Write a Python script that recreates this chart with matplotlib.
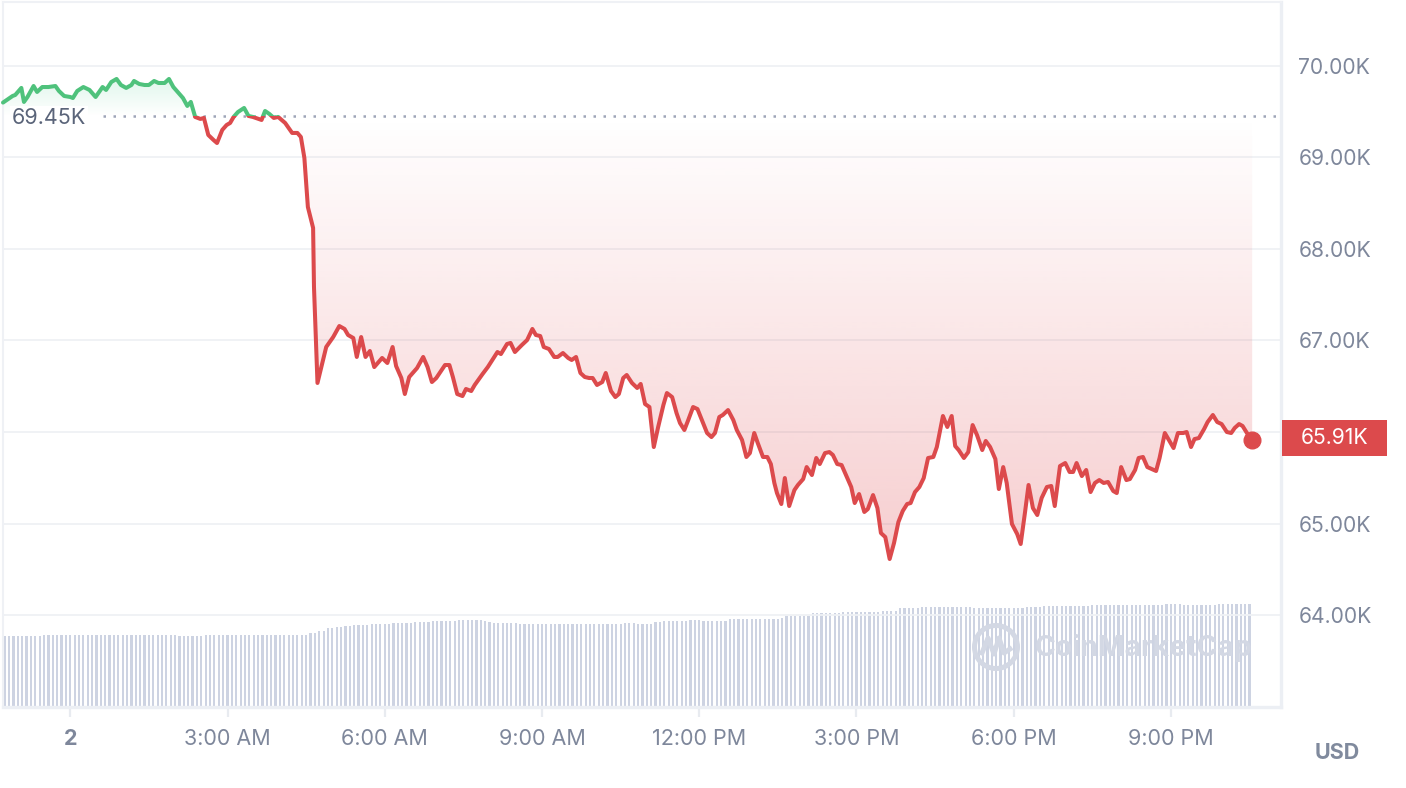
import numpy as np
import matplotlib
matplotlib.use('Agg')
import matplotlib.pyplot as plt
import matplotlib.transforms as mtransforms
from matplotlib.path import Path
from matplotlib.patches import Rectangle, Circle
from matplotlib.lines import Line2D

plt.rcParams['font.family'] = ['Inter', 'DejaVu Sans']

# price samples: minutes after midnight of day 2, price in USD
minutes = [
    -77, -66, -63, -56, -53, -49, -42, -38, -32, -25,
    -17, -13, -7, 0, 3, 8, 15, 22, 29, 37,
    41, 47, 53, 58, 64, 70, 73, 79, 85, 90,
    96, 101, 108, 113, 118, 124, 129, 134, 138, 143,
    149, 153, 158, 164, 168, 174, 179, 183, 187, 192,
    199, 204, 209, 219, 223, 228, 233, 238, 246, 254,
    260, 264, 268, 272, 278, 279, 283, 293, 301, 308,
    314, 318, 324, 328, 333, 338, 343, 348, 357, 363,
    369, 373, 379, 383, 388, 397, 404, 409, 414, 419,
    429, 434, 438, 443, 449, 453, 459, 463, 472, 478,
    489, 493, 500, 504, 509, 517, 523, 529, 533, 538,
    542, 548, 554, 558, 564, 570, 574, 579, 584, 589,
    594, 598, 603, 609, 613, 619, 624, 628, 633, 637,
    643, 649, 653, 658, 663, 668, 673, 679, 683, 689,
    694, 698, 703, 707, 713, 718, 723, 729, 734, 738,
    743, 747, 753, 759, 763, 769, 774, 778, 783, 787,
    793, 798, 802, 806, 809, 814, 818, 823, 829, 833,
    839, 843, 849, 854, 858, 864, 869, 873, 878, 883,
    888, 894, 898, 903, 909, 913, 919, 924, 928, 933,
    938, 943, 948, 953, 958, 962, 967, 972, 977, 982,
    988, 992, 999, 1004, 1009, 1013, 1017, 1023, 1028, 1033,
    1038, 1044, 1048, 1053, 1059, 1063, 1068, 1072, 1078, 1084,
    1088, 1093, 1097, 1102, 1107, 1112, 1118, 1123, 1127, 1133,
    1139, 1144, 1148, 1152, 1158, 1163, 1168, 1173, 1178, 1183,
    1188, 1194, 1198, 1203, 1209, 1213, 1219, 1223, 1228, 1233,
    1243, 1247, 1253, 1259, 1263, 1268, 1274, 1278, 1283, 1287,
    1292, 1298, 1302, 1308, 1313, 1318, 1324, 1329, 1333, 1338,
    1342, 1347, 1353,
]
prices = [
    69600, 69672, 69683, 69760, 69607, 69661, 69781, 69716, 69770, 69770,
    69781, 69727, 69672, 69661, 69650, 69727, 69770, 69738, 69661, 69770,
    69738, 69825, 69858, 69792, 69760, 69792, 69836, 69803, 69792, 69792,
    69836, 69814, 69814, 69858, 69770, 69705, 69650, 69563, 69607, 69443,
    69421, 69432, 69246, 69191, 69158, 69301, 69355, 69377, 69443, 69497,
    69541, 69454, 69443, 69410, 69508, 69475, 69432, 69443, 69377, 69268,
    69268, 69224, 68995, 68459, 68230, 67585, 66536, 66929, 67038, 67158,
    67126, 67060, 67027, 66820, 67038, 66820, 66885, 66710, 66809, 66754,
    66929, 66721, 66590, 66415, 66601, 66699, 66820, 66710, 66546, 66590,
    66732, 66732, 66601, 66415, 66393, 66470, 66448, 66514, 66634, 66710,
    66874, 66852, 66962, 66973, 66874, 66951, 67005, 67126, 67060, 67049,
    66929, 66907, 66820, 66820, 66863, 66809, 66787, 66820, 66645, 66601,
    66590, 66590, 66514, 66546, 66645, 66448, 66382, 66415, 66590, 66623,
    66536, 66481, 66525, 66306, 66273, 65836, 66055, 66295, 66426, 66382,
    66208, 66098, 66022, 66120, 66273, 66251, 66131, 65989, 65945, 65989,
    66164, 66186, 66240, 66131, 66022, 65913, 65727, 65770, 65989, 65880,
    65727, 65727, 65650, 65443, 65333, 65213, 65497, 65191, 65366, 65421,
    65486, 65617, 65530, 65716, 65650, 65770, 65781, 65749, 65650, 65639,
    65530, 65399, 65224, 65322, 65126, 65158, 65311, 65169, 64896, 64852,
    64612, 64787, 65016, 65137, 65213, 65224, 65344, 65399, 65497, 65716,
    65727, 65836, 66175, 66055, 66175, 65847, 65803, 65716, 65781, 66076,
    65967, 65803, 65902, 65836, 65705, 65377, 65617, 65443, 64995, 64885,
    64776, 65126, 65421, 65169, 65093, 65279, 65399, 65410, 65191, 65628,
    65661, 65563, 65563, 65661, 65519, 65585, 65344, 65443, 65475, 65443,
    65454, 65355, 65333, 65617, 65475, 65486, 65585, 65716, 65727, 65617,
    65574, 65716, 65989, 65891, 65825, 65989, 65989, 66000, 65836, 65923,
    65934, 66033, 66109, 66186, 66109, 66087, 66000, 65989, 66044, 66087,
    66066, 65989, 65910,
]
open_price = 69450
open_label = '69.45K'
last_label = '65.91K'

# 24h volume (billion USD), one bar every 5 minutes starting at -75 min
vol_start = -75
vol_step = 5
volume = [
    28.4, 28.4, 28.4, 28.4, 28.4, 28.4, 28.4, 28.4, 28.4, 28.8, 28.8, 28.8, 28.8, 28.8, 28.8,
    28.8, 28.8, 28.8, 28.8, 28.8, 28.8, 28.8, 28.8, 28.8, 28.8, 28.8, 28.8,
    28.8, 28.8, 28.8, 28.8, 28.8, 28.8, 28.8, 28.8, 28.8, 28.8, 28.8, 28.8,
    28.8, 28.4, 28.4, 28.4, 28.4, 28.4, 28.4, 28.8, 28.8, 28.8, 28.8, 28.8,
    28.8, 28.8, 28.8, 28.8, 28.8, 28.8, 28.8, 28.8, 28.8, 28.8, 28.8, 28.8,
    28.8, 28.8, 28.8, 28.8, 28.8, 28.8, 28.8, 29.6, 29.6, 30.4, 30.4, 31.6,
    31.6, 32.0, 32.0, 32.4, 32.4, 32.8, 32.8, 32.8, 32.8, 33.2, 33.2, 33.2,
    33.2, 33.2, 33.6, 33.6, 33.6, 33.6, 33.6, 34.0, 34.0, 34.0, 34.0, 34.4,
    34.4, 34.4, 34.4, 34.4, 34.4, 34.8, 34.8, 34.8, 34.8, 34.8, 34.8, 34.4,
    34.0, 33.6, 33.6, 33.6, 33.6, 33.6, 33.6, 33.2, 33.2, 33.2, 33.2, 33.2,
    33.2, 33.2, 33.2, 33.2, 33.2, 33.2, 33.2, 33.2, 33.2, 33.2, 33.2, 33.2,
    33.2, 33.2, 33.2, 33.2, 33.2, 33.2, 33.2, 33.6, 33.6, 33.6, 33.2, 33.2,
    33.2, 33.2, 34.0, 34.0, 34.4, 34.4, 34.4, 34.4, 34.4, 34.4, 34.8, 34.8,
    34.8, 34.4, 34.4, 34.4, 34.4, 34.4, 34.4, 35.2, 35.2, 35.2, 35.2, 35.2,
    35.2, 35.2, 35.2, 35.2, 35.2, 35.2, 35.2, 35.6, 36.4, 36.4, 36.4, 36.4,
    36.4, 36.4, 37.6, 37.6, 37.6, 37.6, 37.6, 37.6, 37.6, 38.0, 38.0, 38.0,
    38.0, 38.0, 38.0, 38.0, 38.0, 38.0, 38.4, 38.4, 38.4, 38.4, 39.6, 39.6,
    39.6, 39.6, 39.6, 40.0, 40.0, 40.0, 40.0, 40.0, 40.0, 40.0, 40.0, 40.0,
    40.0, 40.0, 40.0, 39.6, 39.6, 39.6, 39.6, 39.6, 39.6, 39.6, 39.6, 39.6,
    39.6, 39.6, 39.6, 40.0, 40.0, 40.0, 40.0, 40.4, 40.4, 40.4, 40.4, 40.4,
    40.4, 40.4, 40.4, 40.4, 40.4, 40.4, 40.8, 40.8, 40.8, 40.8, 40.8, 40.8,
    40.8, 40.8, 40.8, 40.8, 40.8, 40.8, 40.8, 40.8, 40.8, 40.8, 40.8, 41.2,
    41.2, 41.2, 41.2, 40.8, 40.8, 40.8, 40.8, 40.8, 40.8, 40.8, 40.8, 41.2,
    41.2, 41.2, 41.2, 41.2, 41.2, 41.2, 41.2,
]

xtick_minutes = [0, 180, 360, 540, 720, 900, 1080, 1260]
xtick_labels = ['2', '3:00 AM', '6:00 AM', '9:00 AM', '12:00 PM', '3:00 PM', '6:00 PM', '9:00 PM']
ytick_values = [64000, 65000, 66000, 67000, 68000, 69000, 70000]
# the 66.00K label sits under the last-price tag, so it is left blank
ytick_labels = ['64.00K', '65.00K', '', '67.00K', '68.00K', '69.00K', '70.00K']

red = '#dc4a4c'
green = '#4fc27c'
label_grey = '#7e879b'
frame_grey = '#eff1f5'

t = np.array(minutes, dtype=float)
p = np.array(prices, dtype=float)

fig = plt.figure(figsize=(14.06, 7.88), dpi=100)
ax = fig.add_axes([3 / 1406, 81 / 788, 1278 / 1406, 705 / 788])
ax.set_zorder(2)
ax.patch.set_visible(False)

# volume bars on a hidden twin axis behind the price
axv = ax.twinx()
axv.set_zorder(1)
bar_t = vol_start + vol_step * np.arange(len(volume))
axv.bar(bar_t, volume, width=2.5, color='#cdd3e2', linewidth=0)
axv.set_ylim(0, 282)
axv.axis('off')

# gradient fill under the baseline (red) and above it (green)
def gradient_fill(where, color, y_top, y_bot, a_top, a_bot):
    coll = ax.fill_between(t, p, open_price, where=where, interpolate=True,
                           facecolor='none', edgecolor='none')
    clip = Path.make_compound_path(*coll.get_paths())
    rgb = matplotlib.colors.to_rgb(color)
    img = np.zeros((256, 1, 4))
    img[..., 0], img[..., 1], img[..., 2] = rgb
    img[:, 0, 3] = np.linspace(a_top, a_bot, 256)
    im = ax.imshow(img, extent=[t[0], t[-1], y_bot, y_top], origin='upper',
                   aspect='auto', zorder=1, interpolation='bilinear')
    im.set_clip_path(clip, ax.transData)

gradient_fill(p <= open_price, '#e0484e', open_price, p.min(), 0.0, 0.27)
gradient_fill(p >= open_price, '#2cc47c', p.max(), open_price, 0.15, 0.0)

# price line: green above the opening price, red below
for color, lo, hi in [(green, open_price, 72000), (red, 62000, open_price)]:
    ln, = ax.plot(t, p, color=color, lw=2.9, solid_joinstyle='round',
                  solid_capstyle='round', zorder=4)
    ln.set_clip_path(Rectangle((-500, lo), 2500, hi - lo, transform=ax.transData))
ax.plot(t[-1], p[-1], 'o', ms=12, color=red, zorder=5)

# dotted opening-price line and its label
ax.hlines(open_price, 38, 1380, colors='#9ea5b8', lw=1.8, linestyles=(0, (1, 3)), zorder=3)
ax.text(0.007, open_price - 20, open_label,
        transform=mtransforms.blended_transform_factory(ax.transAxes, ax.transData),
        ha='left', va='center', fontsize=15.5, color='#5a6479',
        bbox=dict(facecolor='white', edgecolor='none', pad=1.5), zorder=6)

ax.set_xlim(-77, 1386)
ax.set_ylim(62995, 70699)

ax.set_yticks(ytick_values)
ax.set_yticklabels(ytick_labels)
ax.yaxis.tick_right()
ax.tick_params(axis='y', length=0, pad=12.5, labelsize=15.2, labelcolor=label_grey)
ax.set_xticks(xtick_minutes)
ax.set_xticklabels(xtick_labels)
ax.tick_params(axis='x', length=7, width=1.6, color='#e8ebf0', pad=9, labelsize=15.5,
               labelcolor=label_grey)
ax.get_xticklabels()[0].set_fontweight('bold')
ax.grid(axis='y', color=frame_grey, lw=1.3, zorder=0)
ax.set_axisbelow(True)
for side in ['top', 'left']:
    ax.spines[side].set_color(frame_grey)
    ax.spines[side].set_linewidth(1.5)
for side in ['right', 'bottom']:
    ax.spines[side].set_color('#eceff4')
    ax.spines[side].set_linewidth(2.4)

# last price tag on the right axis
tag = mtransforms.blended_transform_factory(ax.transAxes, ax.transData)
ax.add_patch(Rectangle((1.0008, 65738), 105 / 1278, 393, transform=tag,
                       clip_on=False, facecolor=red, edgecolor='none', zorder=6))
ax.text(1.0008 + 53 / 1278, 65935, last_label, transform=tag, ha='center', va='center',
        fontsize=15.2, color='white', zorder=7)

fig.text(1337 / 1406, 1 - 753 / 788, 'USD', ha='center', va='center', fontsize=15.5,
         fontweight='bold', color='#808a9d')

# watermark
wm = '#d3d8e4'
fig.text(1035 / 1406, 1 - 648 / 788, 'CoinMarketCap', ha='left', va='center', fontsize=20.5,
         fontweight='bold', color=wm, zorder=10)
cx, cy = 9.96, (788 - 647) / 100
fig.add_artist(Circle((cx, cy), 0.215, transform=fig.dpi_scale_trans, fill=False,
                      edgecolor=wm, lw=3.6, zorder=10))
fig.add_artist(Line2D([cx - 0.14, cx - 0.08, cx - 0.02, cx + 0.03, cx + 0.08, cx + 0.14],
                      [cy - 0.06, cy + 0.09, cy - 0.07, cy + 0.09, cy - 0.06, cy - 0.02],
                      transform=fig.dpi_scale_trans, color=wm, lw=3.6,
                      solid_joinstyle='round', zorder=10))

fig.savefig('out.png', dpi=100, facecolor='white')
